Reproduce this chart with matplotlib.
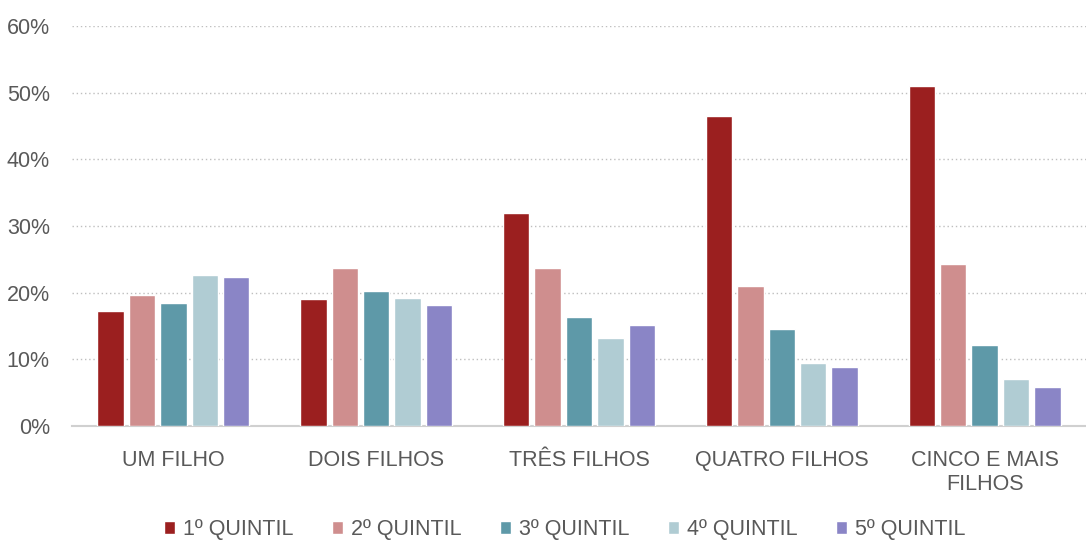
import numpy as np
import matplotlib.pyplot as plt
from matplotlib.ticker import FuncFormatter

plt.rcParams['font.family'] = ['Liberation Sans', 'DejaVu Sans']

categories = ["UM FILHO", "DOIS FILHOS", "TRÊS FILHOS", "QUATRO FILHOS", "CINCO E MAIS\nFILHOS"]
series_names = ["1º QUINTIL", "2º QUINTIL", "3º QUINTIL", "4º QUINTIL", "5º QUINTIL"]
q1 = [17.2, 19.0, 31.9, 46.5, 51.0]
q2 = [19.6, 23.7, 23.7, 21.0, 24.3]
q3 = [18.4, 20.2, 16.3, 14.6, 12.1]
q4 = [22.6, 19.2, 13.2, 9.5, 7.0]
q5 = [22.3, 18.1, 15.2, 8.8, 5.9]
colors = ["#9B1F1F", "#CF8E8E", "#5E99A8", "#B0CCD3", "#8A85C6"]

fig = plt.figure(figsize=(10.86, 5.44), dpi=100)
ax = fig.add_axes([72 / 1086, 118 / 544, 1 - 72 / 1086, 400 / 544])

x = np.arange(len(categories))
step = 0.155
for i, (vals, name, c) in enumerate(zip([q1, q2, q3, q4, q5], series_names, colors)):
    ax.bar(x + (i - 2) * step, vals, width=0.13, color=c, edgecolor="white",
           linewidth=1, label=name, zorder=3)

ax.set_xlim(-0.5, len(categories) - 0.5)
ax.set_ylim(0, 60)
ax.set_yticks(range(0, 61, 10))
ax.yaxis.set_major_formatter(FuncFormatter(lambda v, p: f"{int(v)}%"))
ax.set_xticks(x)
ax.set_xticklabels(categories, linespacing=1.2)
ax.tick_params(axis="both", length=0, labelsize=15.5, colors="#595959")
ax.tick_params(axis="x", pad=17)
ax.tick_params(axis="y", pad=16)

ax.grid(axis="y", color="#BFBFBF", linestyle=(0, (1, 2)), linewidth=1, zorder=0)
for s in ["top", "right", "left"]:
    ax.spines[s].set_visible(False)
ax.spines["bottom"].set_color("#D0D0D0")
ax.spines["bottom"].set_linewidth(1.5)

leg = fig.legend(loc="lower center", bbox_to_anchor=(0.52, -0.028), ncol=5, frameon=False,
                 fontsize=15.5, handlelength=0.5, handleheight=0.55, handletextpad=0.37,
                 columnspacing=1.8)
for t in leg.get_texts():
    t.set_color("#595959")

fig.savefig("out.png", dpi=100)
